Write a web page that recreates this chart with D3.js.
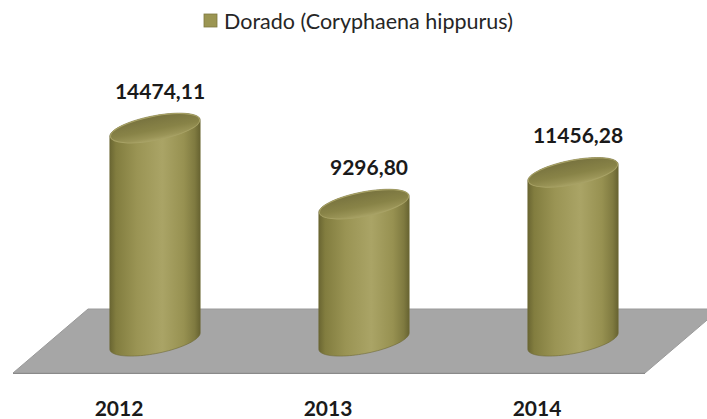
<!DOCTYPE html>
<html>
<head>
<meta charset="utf-8">
<script src="https://cdn.jsdelivr.net/npm/d3@7"></script>
<style>
  html, body { margin: 0; padding: 0; background: #ffffff; }
  svg { display: block; }
</style>
</head>
<body>
<svg id="chart" width="707" height="419"></svg>
<script>
// ---- data ----
const categories = ["2012", "2013", "2014"];
const values = [14474.11, 9296.80, 11456.28];
const valueLabels = ["14474,11", "9296,80", "11456,28"];
const seriesName = "Dorado (Coryphaena hippurus)";

// ---- layout ----
const W = 707, H = 419;
const svg = d3.select("#chart");
const baseY = 341;           // center of cylinder bottoms
const rx = 46, ry = 12.5, rot = -11 * Math.PI / 180;

const x = d3.scalePoint().domain(categories).range([155, 573]);
const y = d3.scaleLinear().domain([0, 15000]).range([baseY, baseY - 220.5]);

const defs = svg.append("defs");
const bodyGrad = defs.append("linearGradient").attr("id", "bodyGrad")
  .attr("x1", "0").attr("x2", "1").attr("y1", "0").attr("y2", "0");
[["0%", "#6a6632"], ["7%", "#827d3f"], ["30%", "#9a9454"], ["58%", "#aaa466"],
 ["82%", "#979151"], ["94%", "#7f7a40"], ["100%", "#676331"]]
  .forEach(([o, c]) => bodyGrad.append("stop").attr("offset", o).attr("stop-color", c));

const topGrad = defs.append("linearGradient").attr("id", "topGrad")
  .attr("x1", "0").attr("x2", "0").attr("y1", "0").attr("y2", "1");
[["0%", "#78733f"], ["55%", "#888347"], ["85%", "#9a9457"], ["100%", "#a9a366"]]
  .forEach(([o, c]) => topGrad.append("stop").attr("offset", o).attr("stop-color", c));

// ---- floor ----
const floorTop = 309, floorBot = 373;
const floorPts = [[88, floorTop], [720, floorTop], [645, floorBot], [13, floorBot]];
svg.append("path")
  .attr("d", "M" + floorPts.map(p => p.join(",")).join("L") + "Z")
  .attr("fill", "#a6a6a6")
  .attr("stroke", "#9a9a9a").attr("stroke-width", 1);
svg.append("line")
  .attr("x1", 13).attr("y1", floorBot + 0.5).attr("x2", 645).attr("y2", floorBot + 0.5)
  .attr("stroke", "#8a8a8a").attr("stroke-width", 1.2);

// ---- cylinders ----
function ellipsePts(cx, cy, n = 90) {
  return d3.range(n).map(i => {
    const t = i / n * 2 * Math.PI;
    return [cx + rx * Math.cos(t) * Math.cos(rot) - ry * Math.sin(t) * Math.sin(rot),
            cy + rx * Math.cos(t) * Math.sin(rot) + ry * Math.sin(t) * Math.cos(rot)];
  });
}

const bars = svg.append("g").selectAll("g").data(categories).join("g");
bars.each(function (cat, i) {
  const g = d3.select(this);
  const cx = x(cat);
  const topY = y(values[i]);
  const hull = d3.polygonHull(ellipsePts(cx, baseY).concat(ellipsePts(cx, topY)));
  g.append("path")
    .attr("d", "M" + hull.map(p => p.join(",")).join("L") + "Z")
    .attr("fill", "url(#bodyGrad)")
    .attr("stroke", "#6e6a36").attr("stroke-width", 0.6);
  g.append("ellipse")
    .attr("cx", cx).attr("cy", topY)
    .attr("rx", rx - 0.5).attr("ry", ry - 0.5)
    .attr("transform", `rotate(${rot * 180 / Math.PI},${cx},${topY})`)
    .attr("fill", "url(#topGrad)")
    .attr("stroke", "#a8a266").attr("stroke-width", 1);
});

// ---- value labels ----
svg.append("g").selectAll("text").data(categories).join("text")
  .attr("x", (d) => x(d) + 5)
  .attr("y", (d, i) => y(values[i]) - ry - 17)
  .attr("text-anchor", "middle")
  .attr("font-family", "Lato, 'Open Sans', sans-serif")
  .attr("font-weight", "bold")
  .attr("font-size", 21)
  .attr("fill", "#1a1a1a")
  .text((d, i) => valueLabels[i]);

// ---- category labels ----
svg.append("g").selectAll("text").data(categories).join("text")
  .attr("x", d => x(d) - 36)
  .attr("y", 416)
  .attr("text-anchor", "middle")
  .attr("font-family", "Lato, 'Open Sans', sans-serif")
  .attr("font-weight", "bold")
  .attr("font-size", 21)
  .attr("fill", "#1a1a1a")
  .text(d => d);

// ---- legend ----
const legend = svg.append("g");
legend.append("rect")
  .attr("x", 204).attr("y", 14).attr("width", 13).attr("height", 13)
  .attr("fill", "#9b9552").attr("stroke", "#7e7940").attr("stroke-width", 0.8);
legend.append("text")
  .attr("x", 224).attr("y", 29)
  .attr("font-family", "Lato, 'Open Sans', sans-serif")
  .attr("font-size", 21.5)
  .attr("fill", "#262626")
  .text(seriesName);
</script>
</body>
</html>
